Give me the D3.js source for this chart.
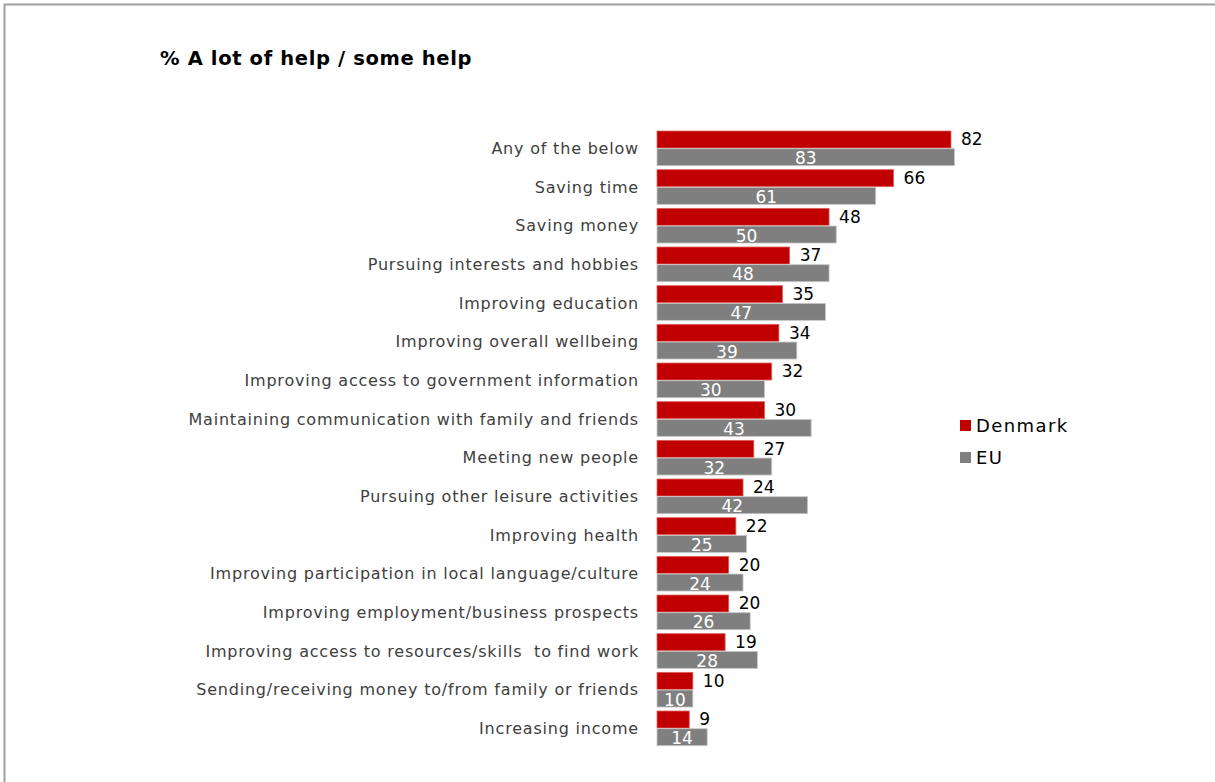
<!DOCTYPE html>
<html>
<head>
<meta charset="utf-8">
<script src="https://cdn.jsdelivr.net/npm/d3@7/dist/d3.min.js"></script>
<style>
  html, body { margin: 0; padding: 0; background: #fff; }
  svg { display: block; }
  text { white-space: pre; }
</style>
</head>
<body>
<svg id="chart" width="1215" height="782"></svg>
<script>
// Share of respondents saying the internet is "a lot of help / some help"
const categories = [
  "Any of the below",
  "Saving time",
  "Saving money",
  "Pursuing interests and hobbies",
  "Improving education",
  "Improving overall wellbeing",
  "Improving access to government information",
  "Maintaining communication with family and friends",
  "Meeting new people",
  "Pursuing other leisure activities",
  "Improving health",
  "Improving participation in local language/culture",
  "Improving employment/business prospects",
  "Improving access to resources/skills  to find work",
  "Sending/receiving money to/from family or friends",
  "Increasing income"
];
const denmark = [82, 66, 48, 37, 35, 34, 32, 30, 27, 24, 22, 20, 20, 19, 10, 9];
const eu      = [83, 61, 50, 48, 47, 39, 30, 43, 32, 42, 25, 24, 26, 28, 10, 14];
const seriesNames = ["Denmark", "EU"];
const seriesColors = ["#C00000", "#7F7F7F"];
const titleText = "% A lot of help / some help";

const svg = d3.select("#chart");
const font = "'DejaVu Sans', Verdana, sans-serif";

// frame
svg.append("path")
  .attr("d", "M4.5,782 L4.5,4.5 L1215,4.5")
  .attr("fill", "none")
  .attr("stroke", "#a0a0a0")
  .attr("stroke-width", 2);

// title
svg.append("text")
  .attr("x", 160).attr("y", 65)
  .attr("font-family", font)
  .attr("font-weight", "bold")
  .attr("font-size", 19.5)
  .attr("letter-spacing", 0.65)
  .attr("fill", "#000")
  .text(titleText);

const x = d3.scaleLinear().domain([0, 100]).range([657, 657 + 358.5]);
const y = d3.scaleBand().domain(categories).range([131, 745.7]).paddingInner(0.103).paddingOuter(0);
const sub = d3.scaleBand().domain(seriesNames).range([0, y.bandwidth()]).paddingInner(0.04);

const rows = categories.map((c, i) => ({ cat: c, values: [denmark[i], eu[i]] }));

const g = svg.append("g");

// category labels
g.selectAll("text.cat")
  .data(rows)
  .join("text")
  .attr("class", "cat")
  .attr("x", 639)
  .attr("y", d => y(d.cat) + y.bandwidth() / 2)
  .attr("dy", "0.35em")
  .attr("text-anchor", "end")
  .attr("font-family", font)
  .attr("font-size", 16)
  .attr("letter-spacing", 0.8)
  .attr("fill", "#404040")
  .text(d => d.cat);

// bars
const groups = g.selectAll("g.row")
  .data(rows)
  .join("g")
  .attr("class", "row")
  .attr("transform", d => `translate(0,${y(d.cat)})`);

groups.selectAll("rect")
  .data(d => d.values.map((v, k) => ({ v, k, name: seriesNames[k] })))
  .join("rect")
  .attr("x", x(0))
  .attr("y", d => sub(d.name))
  .attr("width", d => x(d.v) - x(0))
  .attr("height", sub.bandwidth())
  .attr("fill", d => seriesColors[d.k])
  .attr("stroke", d => d.k === 0 ? "#e06060" : "#c8c8c8")
  .attr("stroke-width", 0.8);

// Denmark values: outside end
groups.append("text")
  .attr("x", d => x(d.values[0]) + 10)
  .attr("y", sub("Denmark") + sub.bandwidth() / 2)
  .attr("dy", "0.35em")
  .attr("font-family", font)
  .attr("font-size", 17)
  .attr("fill", "#000")
  .text(d => d.values[0]);

// EU values: centred inside bar
groups.append("text")
  .attr("x", d => (x(0) + x(d.values[1])) / 2)
  .attr("y", sub("EU") + sub.bandwidth() / 2)
  .attr("dy", "0.42em")
  .attr("text-anchor", "middle")
  .attr("font-family", font)
  .attr("font-size", 17)
  .attr("fill", "#fff")
  .text(d => d.values[1]);

// legend
const legend = svg.append("g").attr("transform", "translate(960,420)");
seriesNames.forEach((name, k) => {
  const lg = legend.append("g").attr("transform", `translate(0,${k * 32})`);
  lg.append("rect").attr("x", 0).attr("y", 0).attr("width", 11).attr("height", 11).attr("fill", seriesColors[k]);
  lg.append("text")
    .attr("x", 16).attr("y", 5.5).attr("dy", "0.36em")
    .attr("font-family", font).attr("font-size", 18).attr("letter-spacing", 1.4).attr("fill", "#000")
    .text(name);
});
</script>
</body>
</html>
